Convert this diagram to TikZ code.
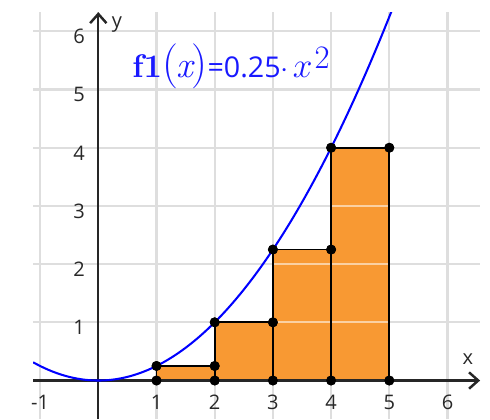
\documentclass[tikz,border=0pt]{standalone}
\usepackage{fontspec}
\setsansfont{Open Sans}
\usetikzlibrary{arrows.meta}
\definecolor{gridgray}{RGB}{222,222,222}
\definecolor{axisgray}{RGB}{38,38,38}
\definecolor{barorange}{RGB}{248,153,51}
\definecolor{curveblue}{RGB}{0,0,255}
\definecolor{labelblue}{RGB}{25,25,255}
\definecolor{ticktext}{RGB}{40,40,40}
\begin{document}
\begin{tikzpicture}[x=1cm,y=1cm,
  gridline/.style={gridgray, line width=1pt},
  gridover/.style={white, opacity=0.55, line width=1pt},
  axisline/.style={axisgray, line width=1pt, -{Straight Barb[length=4.5pt,width=8pt,line width=1.2pt]}},
  ticklabel/.style={font=\sffamily\fontsize{9.8}{10}\selectfont, text=ticktext, inner sep=0pt},
  bar/.style={fill=barorange},
  baredge/.style={draw=black, line width=0.9pt, line join=round},
  dot/.style={circle, fill=black, inner sep=0pt, minimum size=0.17cm},
  curve/.style={curveblue, line width=1pt}]
\useasboundingbox (-1.689,-0.6615) rectangle (6.730,6.538);
% grid
\foreach \i in {-1,...,6} \draw[gridline] (\i,-0.6615) -- (\i,6.33);
\foreach \j in {1,...,6} \draw[gridline] (-1.12,\j) -- (6.56,\j);
% bar fills
\fill[bar] (1,0) rectangle (2,0.25);
\fill[bar] (2,0) rectangle (3,1);
\fill[bar] (3,0) rectangle (4,2.25);
\fill[bar] (4,0) rectangle (5,4);
\begin{scope}
  \clip (1,0) rectangle (2,0.25) (2,0) rectangle (3,1) (3,0) rectangle (4,2.25) (4,0) rectangle (5,4);
  \foreach \j in {1,...,6} \draw[gridover] (-1.12,\j) -- (6.56,\j);
\end{scope}
% points
\node[dot] (b1) at (1,0) {};
\node[dot] (t1) at (1,0.25) {};
\node[dot] (u1) at (2,0.25) {};
\node[dot] (b2) at (2,0) {};
\node[dot] (t2) at (2,1) {};
\node[dot] (u2) at (3,1) {};
\node[dot] (b3) at (3,0) {};
\node[dot] (t3) at (3,2.25) {};
\node[dot] (u3) at (4,2.25) {};
\node[dot] (b4) at (4,0) {};
\node[dot] (t4) at (4,4) {};
\node[dot] (u4) at (5,4) {};
\node[dot] (b5) at (5,0) {};
% bar edges
\draw[baredge] (b1.center) -- (t1.center) -- (u1.center) -- (b2.center);
\draw[baredge] (b2.center) -- (t2.center) -- (u2.center) -- (b3.center);
\draw[baredge] (b3.center) -- (t3.center) -- (u3.center) -- (b4.center);
\draw[baredge] (b4.center) -- (t4.center) -- (u4.center) -- (b5.center);
% axes
\draw[axisline] (-1.12,0) -- (6.56,0);
\draw[axisline] (0,-0.6615) -- (0,6.33);
% curve
\begin{scope}
  \clip (-1.12,-0.6615) rectangle (6.56,6.33);
  \draw[curve, domain=-1.12:5.1, samples=120, smooth] plot (\x,{0.25*\x*\x});
\end{scope}
% redraw dots on top
\foreach \n in {b1,t1,u1,b2,t2,u2,b3,t3,u3,b4,t4,u4,b5}
  \fill (\n) circle (0.085);
% tick labels
\foreach \i/\t in {-1/-1,1/1,2/2,3/3,4/4,5/5,6/6}
  \node[ticklabel] (xl\i) at (\i,-0.37) {\t};
\foreach \j in {1,...,6}
  \node[ticklabel] (yl\j) at (-0.33,\j-0.09) {\j};
\node[ticklabel] (xlab) at (6.35,0.37) {x};
\node[ticklabel] (ylab) at (0.32,6.12) {y};
% function label
\node[anchor=base west, inner sep=0pt, text=labelblue] (flab) at (0.58,5.20)
  {\fontsize{16}{16}\selectfont\textbf{f1}{\fontsize{22}{22}\selectfont(}\kern-1pt{\fontsize{18}{18}\selectfont$\mathit{x}$}\kern-0.5pt{\fontsize{22}{22}\selectfont)}{\sffamily\fontsize{14}{14}\selectfont=0.25$\cdot$}\kern2pt{\fontsize{18}{18}\selectfont$x$}\kern1pt\raisebox{4.5pt}{\fontsize{16}{16}\selectfont 2}};
\end{tikzpicture}
\end{document}
